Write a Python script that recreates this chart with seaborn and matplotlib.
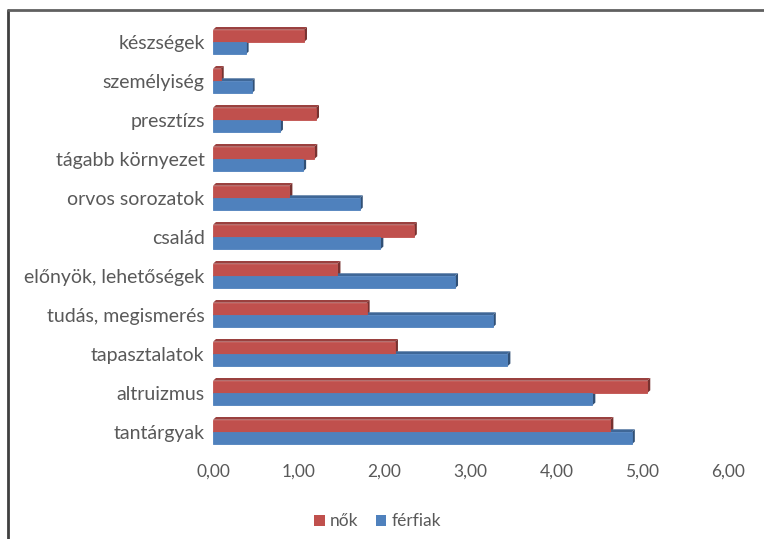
import pandas as pd
import numpy as np
import matplotlib.pyplot as plt
import seaborn as sns
from matplotlib.lines import Line2D
from matplotlib.patches import Polygon

# data
kategoriak = ['készségek', 'személyiség', 'presztízs', 'tágabb környezet',
              'orvos sorozatok', 'család', 'előnyök, lehetőségek',
              'tudás, megismerés', 'tapasztalatok', 'altruizmus', 'tantárgyak']
nok = [1.06, 0.09, 1.20, 1.18, 0.89, 2.34, 1.45, 1.79, 2.12, 5.06, 4.63]
ferfiak = [0.38, 0.45, 0.78, 1.05, 1.71, 1.95, 2.82, 3.26, 3.43, 4.42, 4.88]
xticks = [0, 1, 2, 3, 4, 5, 6]

df = pd.DataFrame({'kategoria': kategoriak * 2,
                   'ertek': nok + ferfiak,
                   'nem': ['nők'] * len(nok) + ['férfiak'] * len(ferfiak)})

sns.set_style('white')
plt.rcParams['font.family'] = ['Lato', 'DejaVu Sans']
szurke = '#595959'

fig = plt.figure(figsize=(7.64, 5.39), dpi=100)
ax = fig.add_axes([0.2788, 0.1623, 0.674, 0.7959])

paletta = {'nők': '#C0504D', 'férfiak': '#4F81BD'}
sns.barplot(data=df, y='kategoria', x='ertek', hue='nem', order=kategoriak,
            hue_order=['nők', 'férfiak'], palette=paletta, width=0.63,
            saturation=1, linewidth=0, ax=ax, legend=True)

# fake excel 3d depth: darker side and top faces, behind the bars
dx = 0.035
dy = 0.07
for bar in list(ax.patches):
    if bar.get_width() <= 0 or bar.get_height() <= 0:
        continue
    # close the antialiasing gap between the two bars of a group
    bar.set_edgecolor(bar.get_facecolor())
    bar.set_linewidth(0.6)
    x0, y0 = bar.get_x(), bar.get_y()
    w, h = bar.get_width(), bar.get_height()
    c = np.array(bar.get_facecolor()[:3])
    z = bar.get_zorder() - 0.1
    side = Polygon([(x0 + w, y0), (x0 + w + dx, y0 - dy), (x0 + w + dx, y0 + h - dy), (x0 + w, y0 + h)],
                   closed=True, facecolor=c * 0.62, edgecolor='none', zorder=z)
    top = Polygon([(x0, y0), (x0 + dx, y0 - dy), (x0 + w + dx, y0 - dy), (x0 + w, y0)],
                  closed=True, facecolor=c * 0.8, edgecolor='none', zorder=z)
    ax.add_patch(side)
    ax.add_patch(top)

ax.set_xlim(0, 6)
ax.set_xticks(xticks)
ax.set_xticklabels([('%.2f' % v).replace('.', ',') for v in xticks])
ax.set_xlabel('')
ax.set_ylabel('')
for s in ax.spines.values():
    s.set_visible(False)
ax.tick_params(axis='both', length=0, colors=szurke)
ax.tick_params(axis='x', pad=9, labelsize=12.5)
ax.tick_params(axis='y', pad=6, labelsize=14)

leg = ax.legend(loc='center', bbox_to_anchor=(0.32, -0.163), ncol=2, frameon=False,
                fontsize=12.5, handlelength=0.6, handleheight=0.6, handletextpad=0.3,
                columnspacing=1.0, labelcolor=szurke)

fig.add_artist(Line2D([0.011, 0.011], [0, 0.981], color='#404040', lw=2, transform=fig.transFigure))
fig.add_artist(Line2D([0.011, 1], [0.981, 0.981], color='#606060', lw=2, transform=fig.transFigure))

fig.savefig('out.png', dpi=100)
